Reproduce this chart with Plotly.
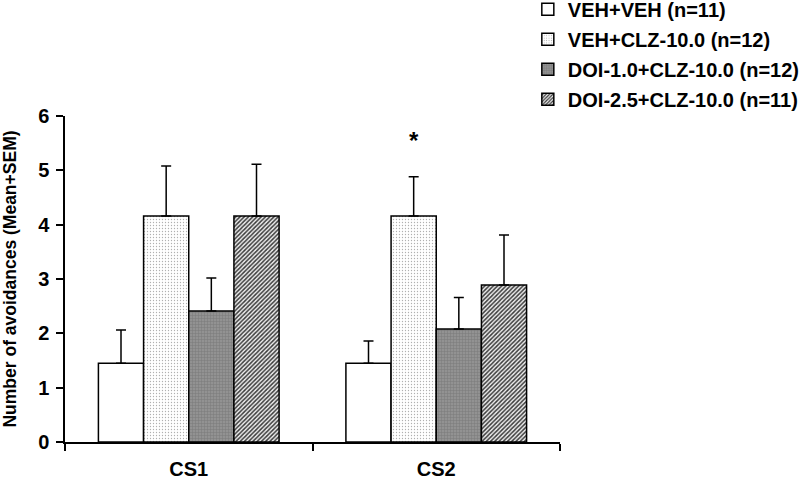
import plotly.graph_objects as go

categories = ["CS1", "CS2"]
series_names = ["VEH+VEH (n=11)", "VEH+CLZ-10.0 (n=12)",
                "DOI-1.0+CLZ-10.0 (n=12)", "DOI-2.5+CLZ-10.0 (n=11)"]
means = [
    [1.45, 1.45],
    [4.16, 4.16],
    [2.41, 2.08],
    [4.16, 2.89],
]
sems = [
    [0.61, 0.41],
    [0.92, 0.72],
    [0.61, 0.58],
    [0.95, 0.92],
]
y_ticks = [0, 1, 2, 3, 4, 5, 6]
star_series = 1
star_category = 1
star_y = 5.55

FONT = "Arial, Liberation Sans, sans-serif"
BARGAP = 0.27

styles = [
    dict(color="white"),
    dict(color="#fafafa", pattern=dict(shape=".", fgcolor="#b0b0b0", bgcolor="#ffffff",
                                        size=3, solidity=0.15, fillmode="replace")),
    dict(color="#8c8c8c", pattern=dict(shape="+", fgcolor="#7a7a7a", bgcolor="#929292",
                                        size=3, solidity=0.3, fillmode="replace")),
    dict(color="#a0a0a0", pattern=dict(shape="/", fgcolor="#3a3a3a", bgcolor="#f0f0f0",
                                        size=3, solidity=0.5, fillmode="replace")),
]

fig = go.Figure()
for i, name in enumerate(series_names):
    fig.add_trace(go.Bar(
        name=name,
        x=categories,
        y=means[i],
        legendgroup=f"g{i}",
        marker=dict(line=dict(color="black", width=1.5), **styles[i]),
        error_y=dict(type="data", symmetric=False, array=sems[i],
                     arrayminus=[0] * len(categories),
                     color="black", thickness=1.5, width=5),
    ))

# asterisk above the selected bar (position derived from group layout)
n = len(series_names)
bw = (1 - BARGAP) / n
star_x = star_category - (1 - BARGAP) / 2 + bw * (star_series + 0.5)
fig.add_annotation(x=star_x, y=star_y, xref="x", yref="y", text="<b>*</b>",
                   showarrow=False, font=dict(family=FONT, size=24, color="black"))

fig.update_layout(
    width=800, height=482,
    margin=dict(l=65, r=240, t=116, b=40, autoexpand=False),
    paper_bgcolor="white", plot_bgcolor="white",
    barmode="group", bargap=BARGAP, bargroupgap=0,
    font=dict(family=FONT, size=18, color="black", weight="bold"),
    showlegend=True,
    legend=dict(x=0.935, y=1.387, xanchor="left", yanchor="top",
                traceorder="grouped", tracegroupgap=1,
                font=dict(family=FONT, size=20, color="black", weight="bold"),
                bgcolor="rgba(0,0,0,0)", itemwidth=30),
    xaxis=dict(showline=True, linecolor="black", linewidth=1.5,
               ticks="outside", tickson="boundaries", ticklen=7, tickwidth=1.5,
               tickcolor="black", showgrid=False, automargin=False,
               tickfont=dict(family=FONT, size=20, weight="bold"),
               ticklabelstandoff=8),
    yaxis=dict(range=[0, 6], tickvals=y_ticks, showline=True, linecolor="black",
               linewidth=1.5, ticks="outside", ticklen=7, tickwidth=1.5,
               tickcolor="black", showgrid=False, zeroline=False, automargin=False,
               tickfont=dict(family=FONT, size=20, weight="bold"),
               ticklabelstandoff=3,
               title=dict(text="Number of avoidances (Mean+SEM)",
                          font=dict(family=FONT, size=17.5, weight="bold"),
                          standoff=26)),
)

fig.write_html("out.html",
               config={"displayModeBar": False},
               post_script="document.body.style.margin='0';")
